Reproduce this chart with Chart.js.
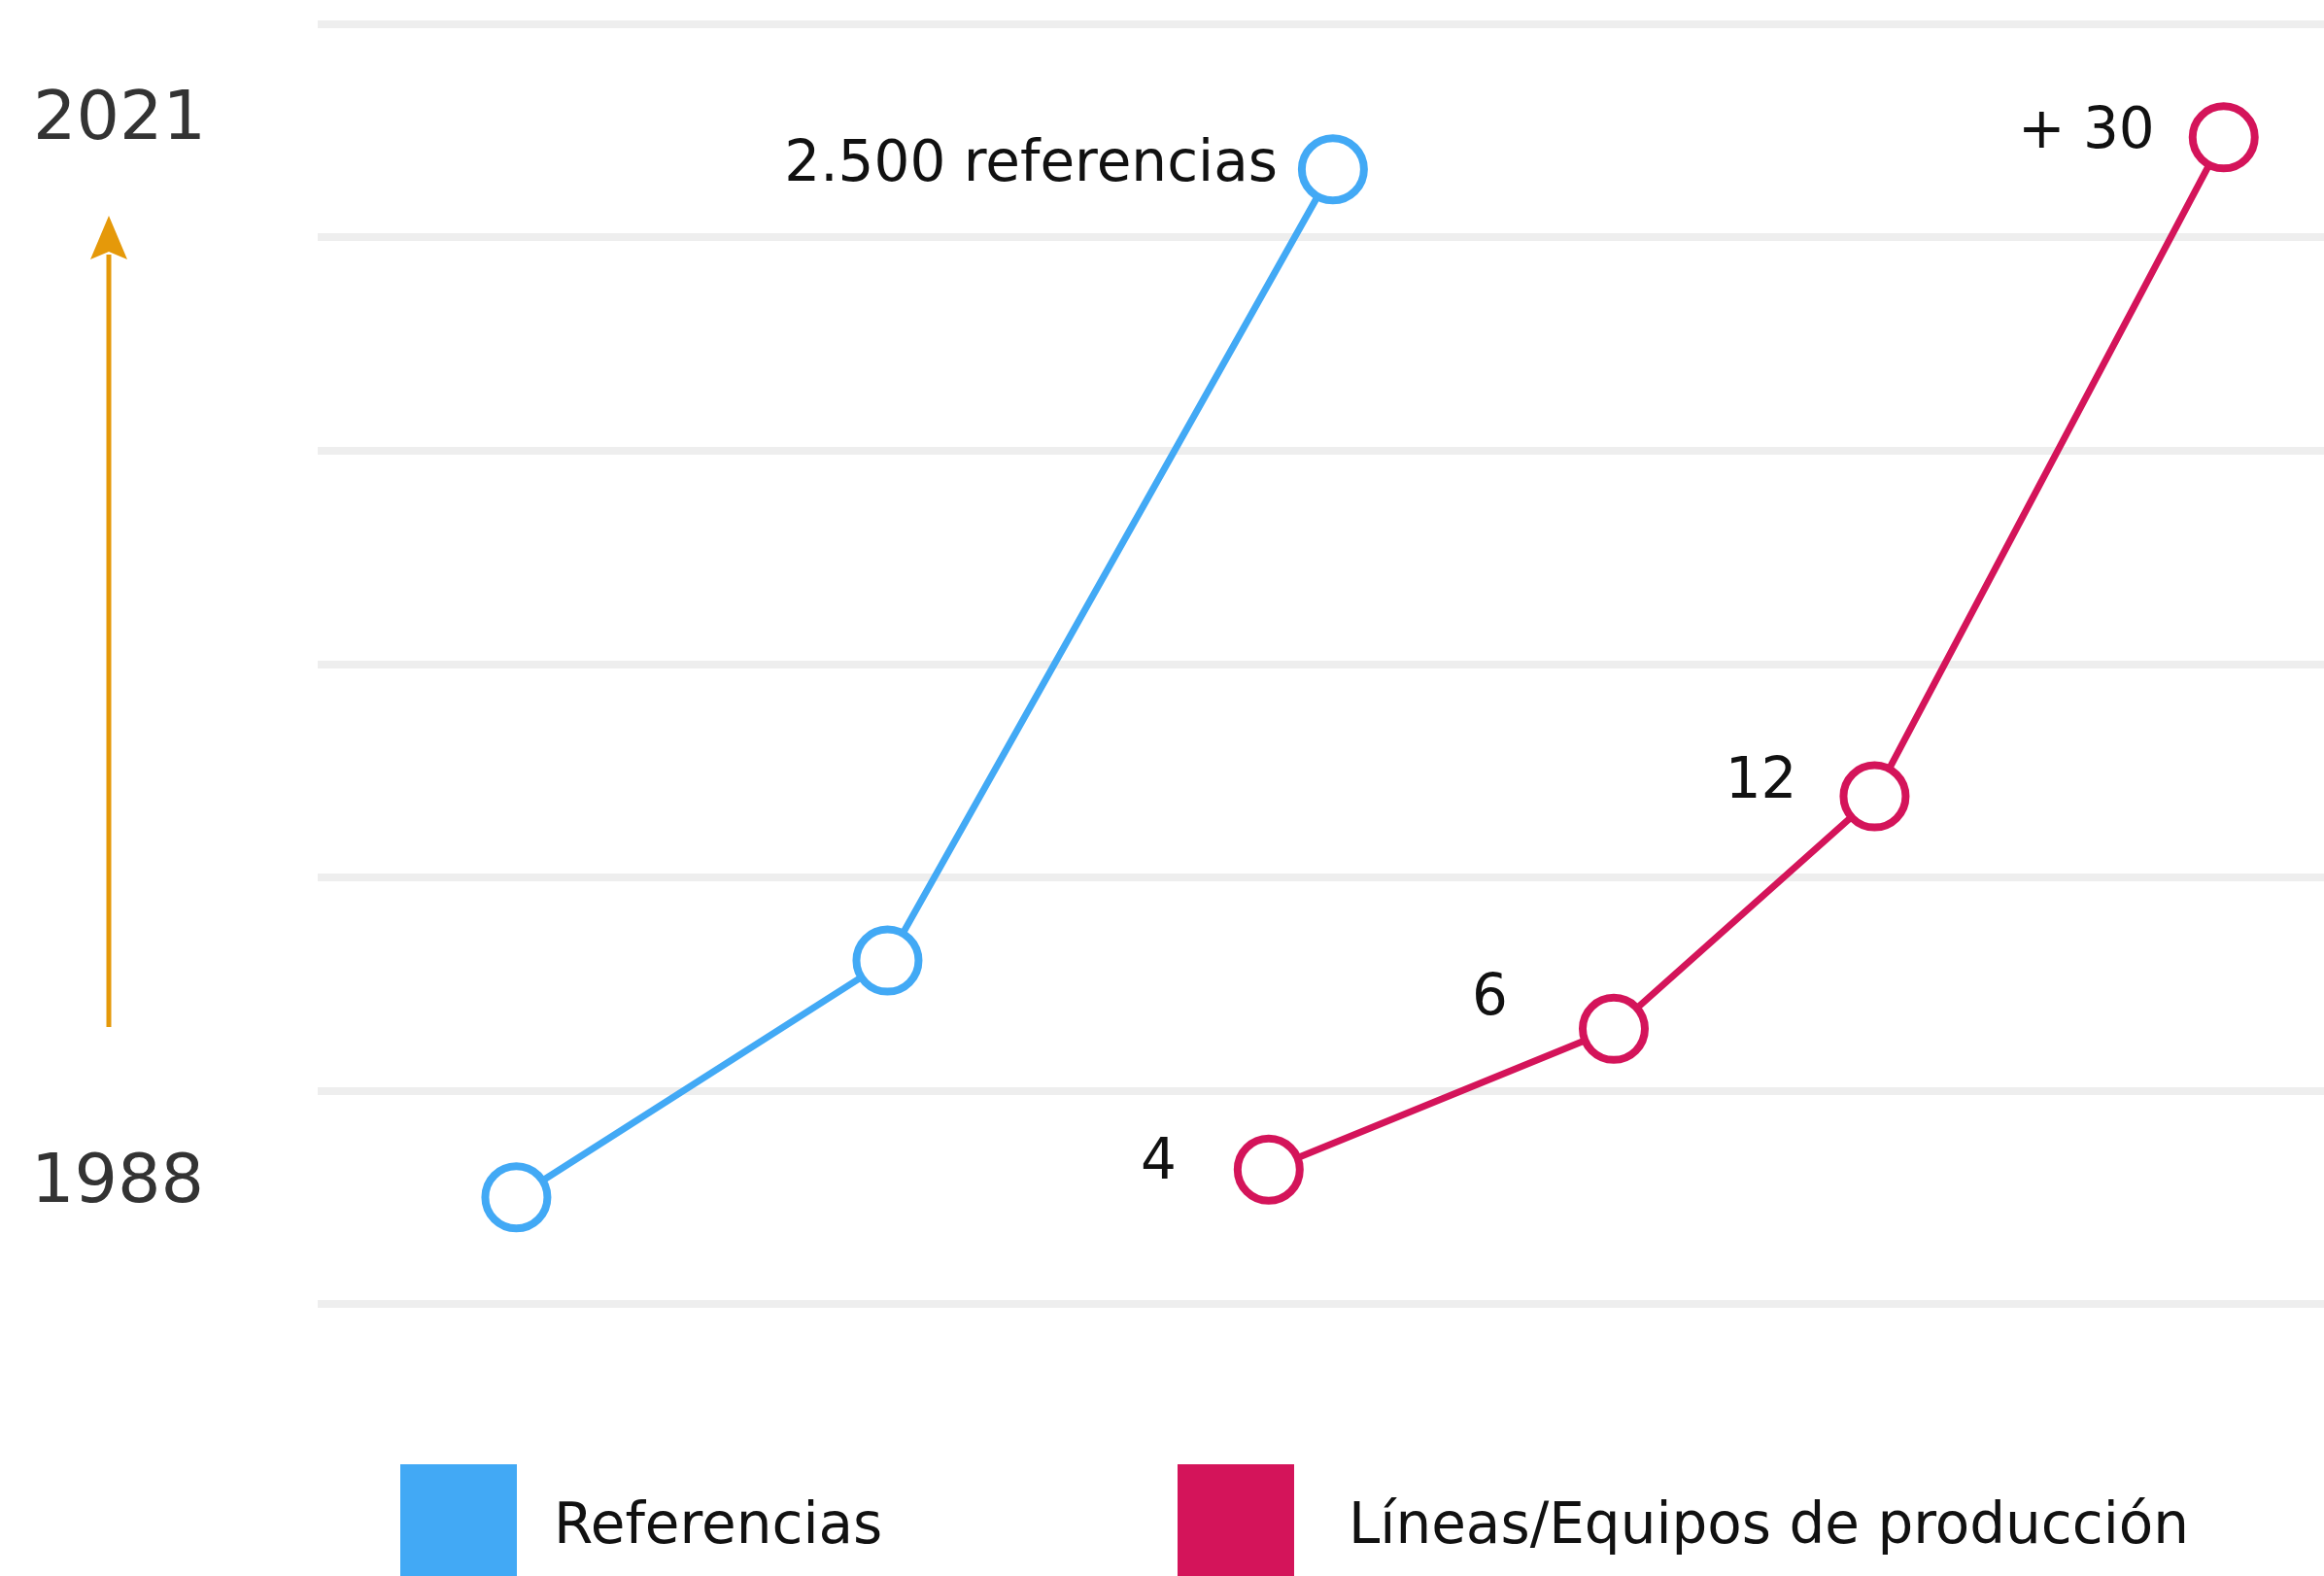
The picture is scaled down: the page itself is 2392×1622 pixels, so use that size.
<!DOCTYPE html>
<html>
<head>
<meta charset="utf-8">
<script src="https://cdn.jsdelivr.net/npm/chart.js@4/dist/chart.umd.min.js"></script>
<style>
html,body{margin:0;padding:0;background:#fff;overflow:hidden}
canvas{display:block}
</style>
</head>
<body>
<canvas id="c" width="2392" height="1622"></canvas>
<script>
// ---- data ----
const seriesNames = ['Referencias', 'Líneas/Equipos de producción'];
const referenciasX = [9.9, 28.4, 50.6];
const referenciasY = [0.50, 1.61, 5.32];
const referenciasLabels = ['', '', '2.500 referencias'];
const lineasX = [47.4, 64.6, 77.6, 95.0];
const lineasY = [0.63, 1.29, 2.38, 5.47];
const lineasLabels = ['4', '6', '12', '+ 30'];
const timeLabels = ['1988', '2021'];

const BLUE = '#42A9F5';
const RED = '#D4145A';
const FONT = '"DejaVu Sans", sans-serif';

function pts(xs, ys) { return xs.map((x, i) => ({ x: x, y: ys[i] })); }

const annotate = {
  id: 'annotate',
  afterDatasetsDraw(chart) {
    const ctx = chart.ctx;
    ctx.save();
    // point labels, right-aligned to the left of each point
    ctx.font = '58px ' + FONT;
    ctx.fillStyle = '#111';
    ctx.textAlign = 'right';
    ctx.textBaseline = 'alphabetic';
    chart.data.datasets.forEach((ds, di) => {
      const meta = chart.getDatasetMeta(di);
      ds.pointLabels.forEach((t, i) => {
        if (!t) return;
        const p = meta.data[i];
        const off = ds.labelOffsets[i];
        ctx.fillText(t, p.x + off[0], p.y + off[1]);
      });
    });

    // time arrow
    ctx.strokeStyle = '#E5990A';
    ctx.fillStyle = '#E5990A';
    ctx.lineWidth = 5;
    ctx.beginPath();
    ctx.moveTo(112, 1057);
    ctx.lineTo(112, 262);
    ctx.stroke();
    ctx.beginPath();
    ctx.moveTo(112, 222);
    ctx.lineTo(93, 267);
    ctx.lineTo(112, 259);
    ctx.lineTo(131, 267);
    ctx.closePath();
    ctx.fill();

    // year labels
    ctx.font = '70px ' + FONT;
    ctx.fillStyle = '#333333';
    ctx.textAlign = 'left';
    ctx.fillText(timeLabels[1], 34, 143);
    ctx.fillText(timeLabels[0], 32, 1237);

    // legend
    const legendPos = [[412, 570], [1212, 1388]];
    ctx.font = '58px ' + FONT;
    chart.data.datasets.forEach((ds, di) => {
      const lp = legendPos[di];
      ctx.fillStyle = ds.borderColor;
      ctx.fillRect(lp[0], 1507, 120, 120);
      ctx.fillStyle = '#111';
      ctx.fillText(ds.label, lp[1], 1588);
    });
    ctx.restore();
  }
};

new Chart(document.getElementById('c'), {
  type: 'line',
  data: {
    datasets: [
      {
        label: seriesNames[0],
        data: pts(referenciasX, referenciasY),
        borderColor: BLUE,
        backgroundColor: '#ffffff',
        borderWidth: 7,
        pointRadius: 32,
        pointBorderWidth: 8,
        pointBackgroundColor: '#ffffff',
        pointBorderColor: BLUE,
        tension: 0,
        clip: false,
        pointLabels: referenciasLabels,
        labelOffsets: [[0, 0], [0, 0], [-57, 12]]
      },
      {
        label: seriesNames[1],
        data: pts(lineasX, lineasY),
        borderColor: RED,
        backgroundColor: '#ffffff',
        borderWidth: 7,
        pointRadius: 32,
        pointBorderWidth: 8,
        pointBackgroundColor: '#ffffff',
        pointBorderColor: RED,
        tension: 0,
        clip: false,
        pointLabels: lineasLabels,
        labelOffsets: [[-95, 9], [-109, -15], [-80, 1], [-71, 11]]
      }
    ]
  },
  options: {
    responsive: false,
    animation: false,
    devicePixelRatio: 1,
    layout: { autoPadding: false, padding: { left: 327, right: 0, top: 25, bottom: 280 } },
    plugins: {
      legend: { display: false },
      tooltip: { enabled: false }
    },
    scales: {
      x: {
        type: 'linear',
        min: 0,
        max: 100,
        display: false
      },
      y: {
        type: 'linear',
        min: 0,
        max: 6,
        display: true,
        border: { display: false },
        ticks: { display: false, stepSize: 1 },
        grid: { color: '#EEEEEE', lineWidth: 8, drawTicks: false }
      }
    }
  },
  plugins: [annotate]
});
</script>
</body>
</html>
